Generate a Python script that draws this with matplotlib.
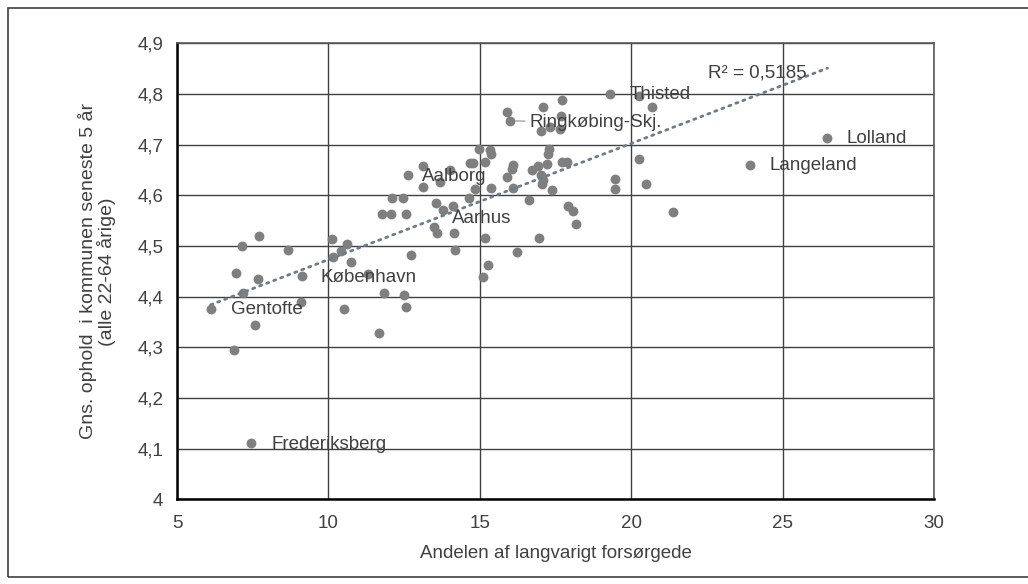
import matplotlib.pyplot as plt
import numpy as np
from matplotlib.patches import Rectangle
from matplotlib.ticker import FuncFormatter, MultipleLocator


plt.close('all')
plt.rcParams['font.family'] = ['Liberation Sans', 'DejaVu Sans']

# andel langvarigt forsørgede (%) pr. kommune
andel = [6.11, 7.19, 6.95, 7.68, 9.12, 9.09, 7.59, 6.88, 7.15, 7.71,
         8.68, 10.13, 10.62, 10.41, 10.16, 10.75, 11.32, 12.74, 11.84, 12.51,
         12.56, 10.53, 11.67, 7.45, 13.50, 13.60, 14.16, 14.18, 12.64, 13.11,
         13.11, 12.11, 12.45, 11.78, 12.07, 12.55, 13.55, 13.79, 14.10, 15.17,
         15.26, 15.12, 13.69, 14.02, 14.68, 14.79, 15.17, 15.37, 15.34, 14.98,
         14.84, 14.65, 15.37, 16.11, 16.05, 15.91, 16.10, 16.62, 16.71, 16.93,
         17.21, 17.30, 17.24, 17.01, 17.10, 17.04, 17.37, 17.70, 17.87, 17.70,
         17.08, 17.68, 17.01, 17.32, 17.65, 15.91, 16.00, 17.92, 18.08, 18.18,
         16.96, 16.24, 19.30, 20.27, 20.68, 20.27, 19.48, 19.45, 20.48, 21.38,
         23.93, 26.48]

# gns. ophold i kommunen seneste 5 år (alle 22-64 årige)
ophold = [4.375, 4.407, 4.447, 4.434, 4.441, 4.389, 4.344, 4.295, 4.500, 4.520,
          4.492, 4.513, 4.504, 4.491, 4.478, 4.468, 4.445, 4.482, 4.407, 4.403,
          4.380, 4.375, 4.328, 4.111, 4.537, 4.525, 4.526, 4.493, 4.640, 4.658,
          4.617, 4.595, 4.595, 4.563, 4.563, 4.564, 4.584, 4.572, 4.578, 4.515,
          4.463, 4.439, 4.627, 4.650, 4.664, 4.664, 4.666, 4.681, 4.689, 4.691,
          4.612, 4.594, 4.615, 4.660, 4.651, 4.637, 4.614, 4.591, 4.650, 4.657,
          4.662, 4.691, 4.682, 4.640, 4.630, 4.623, 4.610, 4.666, 4.666, 4.788,
          4.774, 4.757, 4.727, 4.735, 4.730, 4.764, 4.747, 4.579, 4.569, 4.543,
          4.516, 4.489, 4.800, 4.795, 4.775, 4.672, 4.632, 4.612, 4.622, 4.568,
          4.660, 4.714]

# navngivne kommuner og deres plads i listerne
kommuner = ['Gentofte', 'København', 'Frederiksberg', 'Aalborg', 'Aarhus',
            'Ringkøbing-Skj.', 'Thisted', 'Langeland', 'Lolland']
kommune_idx = [0, 4, 23, 28, 36, 76, 82, 90, 91]

r2_tekst = 'R² = 0,5185'

# label offsets in pixels (layout only)
offsets = {'Gentofte': (20, 0), 'København': (19, -2), 'Frederiksberg': (20, -1),
           'Aalborg': (14, -1), 'Aarhus': (16, -15), 'Ringkøbing-Skj.': (19, -2),
           'Thisted': (20, -1), 'Langeland': (19, -1), 'Lolland': (19, -1)}

txt_col = '#404040'
fs = 13.5

x = np.array(andel)
y = np.array(ophold)

fig = plt.figure(figsize=(10.28, 5.84), dpi=100)
ax = fig.add_axes([0.1722, 0.1447, 0.7364, 0.7813])

ax.scatter(x, y, s=50, color='#7f7f7f', zorder=3, linewidths=0)

# lineær trendlinje
k, m = np.polyfit(x, y, 1)
xs = np.array([x.min(), x.max()])
ax.plot(xs, k * xs + m, color='#6b7c8f', lw=2.0, linestyle=(0, (0.8, 1.9)),
        dash_capstyle='round', zorder=4)
ax.text(22.55, 4.841, r2_tekst, fontsize=fs, color=txt_col, va='center', zorder=5)

for navn, i in zip(kommuner, kommune_idx):
    dx, dy = offsets[navn]
    if navn == 'Ringkøbing-Skj.':
        ax.annotate(navn, (x[i], y[i]), xytext=(dx, dy), textcoords='offset pixels',
                    fontsize=fs, color=txt_col, va='center', ha='left', zorder=5,
                    arrowprops=dict(arrowstyle='-', color='#a6a6a6', lw=1,
                                    shrinkA=1, shrinkB=4))
    else:
        ax.annotate(navn, (x[i], y[i]), xytext=(dx, dy), textcoords='offset pixels',
                    fontsize=fs, color=txt_col, va='center', ha='left', zorder=5)

ax.set_xlim(5, 30)
ax.set_ylim(4, 4.9)
ax.xaxis.set_major_locator(MultipleLocator(5))
ax.yaxis.set_major_locator(MultipleLocator(0.1))

def komma(v, pos):
    if abs(v - round(v)) < 1e-9:
        return str(int(round(v)))
    return f'{v:.1f}'.replace('.', ',')

ax.yaxis.set_major_formatter(FuncFormatter(komma))
ax.tick_params(length=0, labelsize=fs, labelcolor=txt_col)
ax.tick_params(axis='x', pad=11)
ax.tick_params(axis='y', pad=10)

ax.grid(True, color='#404040', lw=1.0)
ax.set_axisbelow(True)
for s in ['top', 'right']:
    ax.spines[s].set_color('#595959')
    ax.spines[s].set_linewidth(1.2)
for s in ['left', 'bottom']:
    ax.spines[s].set_color('black')
    ax.spines[s].set_linewidth(1.8)

ax.set_xlabel('Andelen af langvarigt forsørgede', fontsize=fs, color=txt_col)
ax.xaxis.set_label_coords(0.5, -0.100)
ax.set_ylabel('Gns. ophold  i kommunen seneste 5 år\n(alle 22-64 årige)',
              fontsize=14, color=txt_col, linespacing=1.0)
ax.yaxis.set_label_coords(-0.080, 0.5)

# ramme om hele diagrammet
fig.add_artist(Rectangle((8 / 1028, 7 / 584), 1.05, 1 - 15 / 584,
                         transform=fig.transFigure, fill=False,
                         edgecolor='#404040', lw=1.2))

fig.savefig('out.png', dpi=100)
